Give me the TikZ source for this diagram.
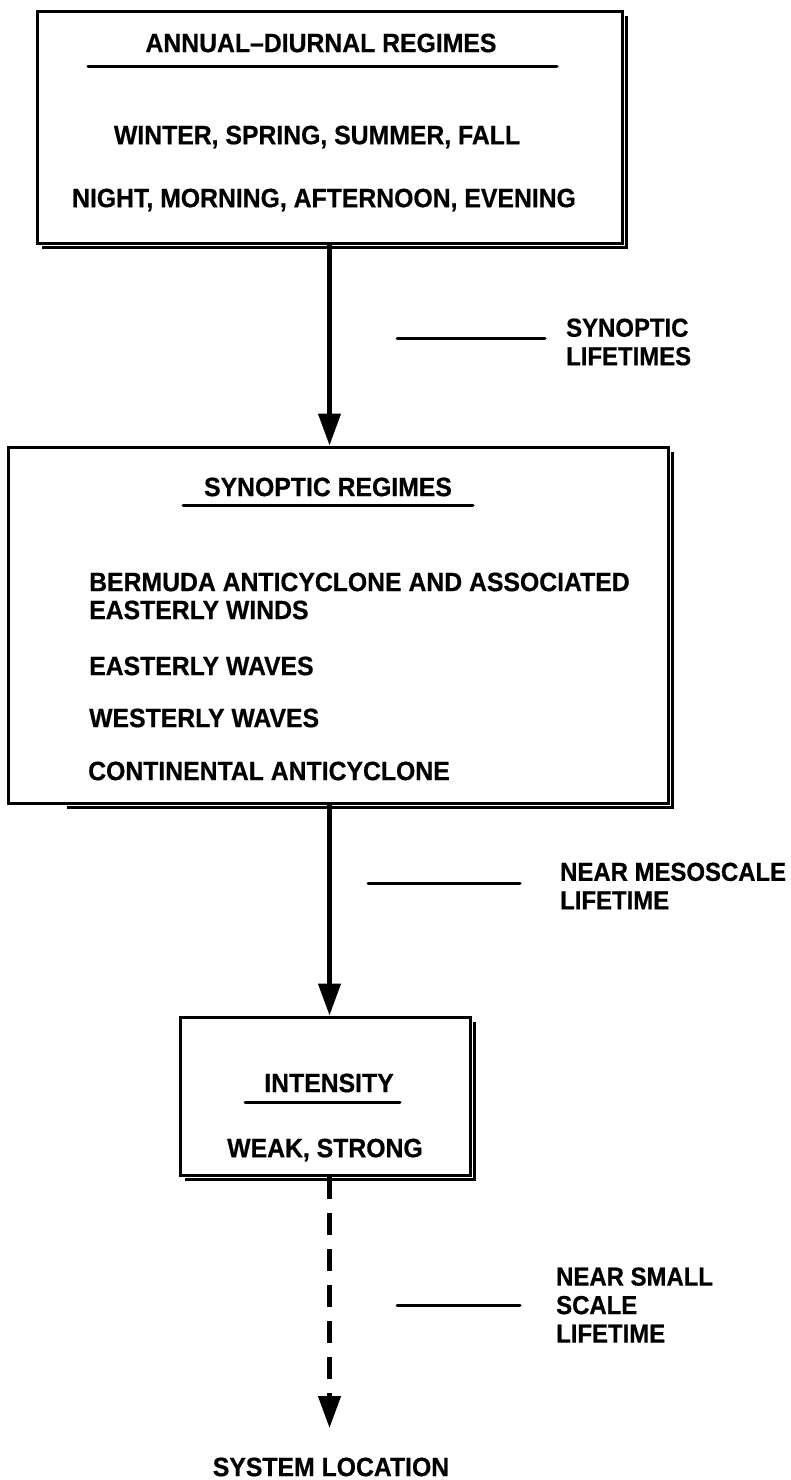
\documentclass[tikz,border=0pt]{standalone}
\usepackage{fontspec}
\setmainfont{Liberation Sans}[FakeStretch=0.935,FakeBold=0.6]
\newfontfamily\lblfont{Liberation Sans}[FakeStretch=0.92,FakeBold=0.6]
\usetikzlibrary{arrows.meta}
\begin{document}
\begin{tikzpicture}[x=1pt,y=-1pt,
  txt/.style={font=\bfseries\fontsize{26.5}{28}\selectfont, inner sep=0pt},
  lbl/.style={inner sep=0pt, anchor=west, align=left, font=\lblfont\bfseries\fontsize{26}{28.5}\selectfont},
  box/.style={draw, line width=3pt, inner sep=0pt},
  shade/.style={line width=3pt},
  uline/.style={line width=3pt, line cap=round},
  conn/.style={line width=4.5pt, -{Triangle[width=22pt,length=32pt]}},
  dconn/.style={conn, dash pattern=on 22pt off 14pt},
  tick/.style={line width=3pt, line cap=round}]
\useasboundingbox (0,0) rectangle (791,1480);
% boxes
\node[box, minimum width=585pt, minimum height=231pt] (b1) at (329.5,127.5) {};
\draw[shade] ([xshift=2.5pt,yshift=-6pt]b1.north east) -- ([xshift=2.5pt,yshift=-2.5pt]b1.south east) -- ([xshift=6pt,yshift=-2.5pt]b1.south west);
\node[box, minimum width=660pt, minimum height=356pt] (b2) at (338,625) {};
\draw[shade] ([xshift=2.5pt,yshift=-6pt]b2.north east) -- ([xshift=2.5pt,yshift=-2.5pt]b2.south east) -- ([xshift=60pt,yshift=-2.5pt]b2.south west);
\node[box, minimum width=290pt, minimum height=158pt] (b3) at (325,1096) {};
\draw[shade] ([xshift=2.5pt,yshift=-6pt]b3.north east) -- ([xshift=2.5pt,yshift=-2.5pt]b3.south east) -- ([xshift=6pt,yshift=-2.5pt]b3.south west);
% box 1 text
\node[txt] (t1) at (321,43) {ANNUAL–DIURNAL REGIMES};
\draw[uline] (88,67) -- (557,67);
\node[txt] (t1a) at (317,137) {WINTER, SPRING, SUMMER, FALL};
\node[txt] (t1b) at (324,200) {NIGHT, MORNING, AFTERNOON, EVENING};
% box 2 text
\node[txt] (t2) at (328,487) {SYNOPTIC REGIMES};
\draw[uline] (183,505) -- (473,505);
\node[txt, anchor=west, align=left] (t2a) at (89,596) {BERMUDA ANTICYCLONE AND ASSOCIATED\\EASTERLY WINDS};
\node[txt, anchor=west] (t2b) at (89,666) {EASTERLY WAVES};
\node[txt, anchor=west] (t2c) at (89,718) {WESTERLY WAVES};
\node[txt, anchor=west] (t2d) at (88,771) {CONTINENTAL ANTICYCLONE};
% box 3 text
\node[txt] (t3) at (329,1083) {INTENSITY};
\draw[uline] (245,1102) -- (400,1102);
\node[txt] (t3a) at (325,1150) {WEAK, STRONG};
% bottom node
\node[txt] (sys) at (331,1467) {SYSTEM LOCATION};
% connectors
\draw[conn] (b1.south) -- (b1.south |- b2.north);
\draw[conn] (b1.south |- b2.south) -- (b1.south |- b3.north);
\draw[dconn] (b1.south |- b3.south) -- (b1.south |- 0,1428);
% side labels
\node[lbl] (l1) at (566,342) {SYNOPTIC\\LIFETIMES};
\coordinate (l1a) at (397,338);
\draw[tick] (l1a) -- ++(148,0);
\node[lbl] (l2) at (560,886) {NEAR MESOSCALE\\LIFETIME};
\coordinate (l2a) at (368,883);
\draw[tick] (l2a) -- ++(152,0);
\node[lbl] (l3) at (556,1305) {NEAR SMALL\\SCALE\\LIFETIME};
\coordinate (l3a) at (397,1305);
\draw[tick] (l3a) -- ++(123,0);
\end{tikzpicture}
\end{document}
